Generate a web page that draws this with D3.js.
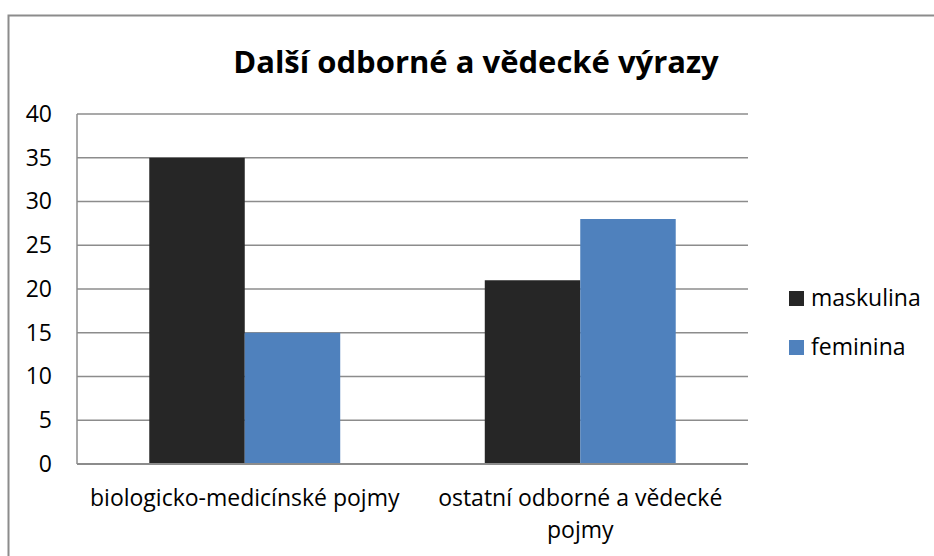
<!DOCTYPE html>
<meta charset="utf-8">
<style>
    body { margin: 0; background: #fff; }
    svg text { font-family: "Open Sans", sans-serif; fill: #000; }
    .title { font-weight: bold; font-size: 31px; }
    .axis text { font-size: 23px; }
    .grid line { stroke: #8c8c8c; stroke-width: 1.5px; }
</style>
<svg width="934" height="556"></svg>
<script src="https://d3js.org/d3.v7.min.js"></script>
<script>

    var categories = [["biologicko-medicínské pojmy"], ["ostatní odborné a vědecké", "pojmy"]];
    var series = ["maskulina", "feminina"];
    var maskulina = [35, 21];
    var feminina = [15, 28];
    var yTicks = [0, 5, 10, 15, 20, 25, 30, 35, 40];
    var colors = ["#262626", "#4f81bd"];

    var svg = d3.select("svg");
    var plotLeft = 77, plotRight = 748, plotTop = 114, plotBottom = 464;

    // outer frame: top + left only, rest is cut off
    svg.append("path")
            .attr("d", "M8.5,556V15.5H934")
            .attr("fill", "none")
            .attr("stroke", "#8c8c8c")
            .attr("stroke-width", 2);

    svg.append("text")
            .attr("class", "title")
            .attr("x", 476)
            .attr("y", 73)
            .attr("text-anchor", "middle")
            .text("Další odborné a vědecké výrazy");

    var keys = categories.map(function(c) { return c.join(" "); });
    var x0 = d3.scaleBand().domain(keys).range([plotLeft, plotRight]);
    var x1 = d3.scaleBand().domain(series).range([0, x0.bandwidth()]).paddingOuter(0.757);
    var y = d3.scaleLinear().domain([0, 40]).range([plotBottom, plotTop]);

    // gridlines
    svg.append("g")
            .attr("class", "grid")
            .selectAll("line")
            .data(yTicks.slice(1))
            .enter().append("line")
            .attr("x1", plotLeft).attr("x2", plotRight)
            .attr("y1", function(d) { return y(d); })
            .attr("y2", function(d) { return y(d); });

    var values = [maskulina, feminina];
    var bars = svg.append("g");
    series.forEach(function(s, i) {
        bars.selectAll(".b" + i)
                .data(values[i])
                .enter().append("rect")
                .attr("x", function(d, j) { return x0(keys[j]) + x1(s); })
                .attr("width", x1.bandwidth())
                .attr("y", function(d) { return y(d); })
                .attr("height", function(d) { return y(0) - y(d); })
                .attr("fill", colors[i]);
    });

    // axis lines
    svg.append("line").attr("x1", plotLeft).attr("x2", plotLeft).attr("y1", plotTop).attr("y2", plotBottom)
            .attr("stroke", "#8c8c8c").attr("stroke-width", 1.5);
    svg.append("line").attr("x1", plotLeft).attr("x2", plotRight).attr("y1", plotBottom).attr("y2", plotBottom)
            .attr("stroke", "#8c8c8c").attr("stroke-width", 2);

    var yAxis = svg.append("g")
            .attr("class", "axis")
            .attr("transform", "translate(" + plotLeft + ",0)")
            .call(d3.axisLeft(y).tickValues(yTicks).tickSize(0).tickPadding(25));
    yAxis.select(".domain").remove();

    var xl = svg.append("g").attr("class", "axis");
    categories.forEach(function(lines, j) {
        var t = xl.append("text")
                .attr("x", x0(keys[j]) + x0.bandwidth() / 2)
                .attr("y", 506)
                .attr("text-anchor", "middle");
        lines.forEach(function(line, k) {
            t.append("tspan")
                    .attr("x", x0(keys[j]) + x0.bandwidth() / 2)
                    .attr("dy", k === 0 ? 0 : 32)
                    .text(line);
        });
    });

    var legend = svg.append("g").attr("class", "axis")
            .selectAll("g")
            .data(series)
            .enter().append("g")
            .attr("transform", function(d, i) { return "translate(789," + (291 + i * 49) + ")"; });
    legend.append("rect")
            .attr("width", 15).attr("height", 15)
            .attr("fill", function(d, i) { return colors[i]; });
    legend.append("text")
            .attr("x", 22)
            .attr("y", 15)
            .text(function(d) { return d; });

</script>
